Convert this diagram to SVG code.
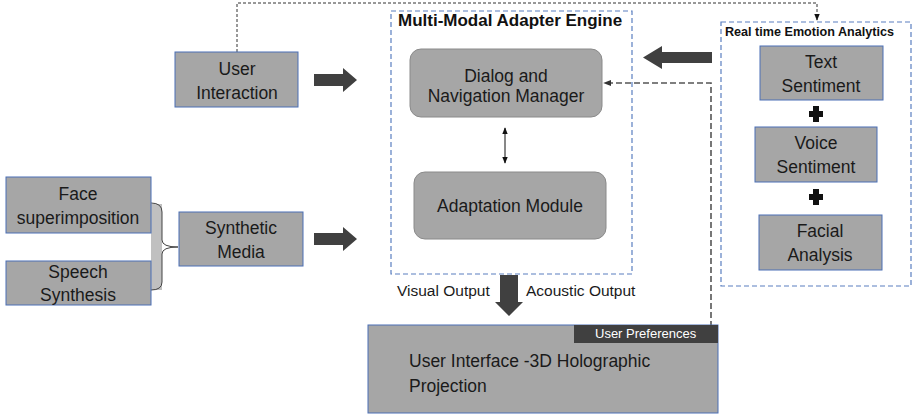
<svg xmlns="http://www.w3.org/2000/svg" width="913" height="417" viewBox="0 0 913 417">
<defs>
<style>
text{font-family:"Liberation Sans",Arial,sans-serif;fill:#1a1a1a}
.box{fill:#a6a6a6;stroke:#4a6fb5;stroke-width:1}
.rbox{fill:#a6a6a6;stroke:#8a8a8a;stroke-width:1}
.grp{fill:none;stroke:#5a7fc0;stroke-width:1.2;stroke-dasharray:5 3}
.big{fill:#404040}
.t16{font-size:17.5px;text-anchor:middle}
.t17{font-size:17.5px}
</style>
<marker id="ah" viewBox="0 0 10 10" refX="9" refY="5" markerWidth="7" markerHeight="7" orient="auto-start-reverse"><path d="M0,1 L10,5 L0,9 z" fill="#111"/></marker>
<marker id="ahg" viewBox="0 0 10 10" refX="9" refY="5" markerWidth="5" markerHeight="5" orient="auto"><path d="M0,1 L10,5 L0,9 z" fill="#333"/></marker>
</defs>

<g id="connectors">
<polyline points="237,52 237,3 817,3 817,20" fill="none" stroke="#333" stroke-width="1" stroke-dasharray="3 2" marker-end="url(#ah)"/>
<polyline points="711,336 711,83 604,83" fill="none" stroke="#555" stroke-width="1.6" stroke-dasharray="6 3" marker-end="url(#ahg)"/>
<line x1="505" y1="128" x2="505" y2="163" stroke="#111" stroke-width="1" marker-start="url(#ah)" marker-end="url(#ah)"/>
<path class="big" d="M314,74 H343 V68 L357,80 L343,92 V86 H314 z"/>
<path class="big" d="M314,233 H343 V227 L357,239 L343,251 V245 H314 z"/>
<path class="big" d="M712,52 H662 V46 L643,57.5 L662,69 V63 H712 z"/>
<path class="big" d="M500,275 H518 V302 H523 L509,316 L495,302 H500 z"/>
<path d="M151,204 H162 V290 H151 z" fill="#c0c0c0"/>
<path d="M151,203 Q162,203 162,212 V240 Q162,247 178,247 Q162,247 162,254 V282 Q162,290 151,290" fill="none" stroke="#444" stroke-width="1"/>
</g>

<g id="multimodal">
<rect class="grp" x="391" y="11" width="241" height="263"/>
<text x="398" y="26" style="font-size:17px;font-weight:bold;fill:#111">Multi-Modal Adapter Engine</text>
</g>
<g id="dialog">
<rect class="rbox" x="410" y="49" width="192" height="68" rx="11"/>
<text class="t16" x="506" y="82">Dialog and</text>
<text class="t16" x="506" y="102">Navigation Manager</text>
</g>
<g id="adaptation">
<rect class="rbox" x="414" y="172" width="192" height="67" rx="11"/>
<text class="t16" x="510" y="212">Adaptation Module</text>
</g>

<g id="emotion">
<rect class="grp" x="721" y="22" width="190" height="264"/>
<text x="725" y="36" style="font-size:12.6px;font-weight:bold;fill:#111">Real time Emotion Analytics</text>
<path d="M813,106 H819 V111 H823 V117 H819 V122 H813 V117 H809 V111 H813 z" fill="#111"/>
<path d="M813,189 H819 V194 H823 V200 H819 V205 H813 V200 H809 V194 H813 z" fill="#111"/>
</g>
<g id="text-sentiment">
<rect class="box" x="760" y="46" width="123" height="54"/>
<text class="t16" x="821" y="68">Text</text>
<text class="t16" x="821" y="92">Sentiment</text>
</g>
<g id="voice-sentiment">
<rect class="box" x="755" y="127" width="122" height="55"/>
<text class="t16" x="816" y="149">Voice</text>
<text class="t16" x="816" y="173">Sentiment</text>
</g>
<g id="facial-analysis">
<rect class="box" x="759" y="215" width="123" height="55"/>
<text class="t16" x="820" y="237">Facial</text>
<text class="t16" x="820" y="261">Analysis</text>
</g>

<g id="user-interaction">
<rect class="box" x="175" y="52" width="123" height="55"/>
<text class="t16" x="237" y="75">User</text>
<text class="t16" x="237" y="99">Interaction</text>
</g>
<g id="face">
<rect class="box" x="6" y="177" width="145" height="56"/>
<text class="t16" x="78" y="200">Face</text>
<text class="t16" x="78" y="224">superimposition</text>
</g>
<g id="speech">
<rect class="box" x="6" y="261" width="145" height="44"/>
<text class="t16" x="78" y="278">Speech</text>
<text class="t16" x="78" y="301">Synthesis</text>
</g>
<g id="synthetic">
<rect class="box" x="179" y="212" width="124" height="54"/>
<text class="t16" x="241" y="234">Synthetic</text>
<text class="t16" x="241" y="258">Media</text>
</g>

<g id="outputs">
<text x="397" y="296" style="font-size:15.5px">Visual Output</text>
<text x="526" y="296" style="font-size:15.5px">Acoustic Output</text>
</g>
<g id="user-interface">
<rect class="box" x="368" y="325" width="350" height="88"/>
<text class="t17" x="409" y="367">User Interface -3D Holographic</text>
<text class="t17" x="409" y="392">Projection</text>
</g>
<g id="user-preferences">
<rect x="574" y="325" width="144" height="18" fill="#404040"/>
<text x="595" y="338" style="font-size:13px;fill:#fff">User Preferences</text>
</g>
</svg>
